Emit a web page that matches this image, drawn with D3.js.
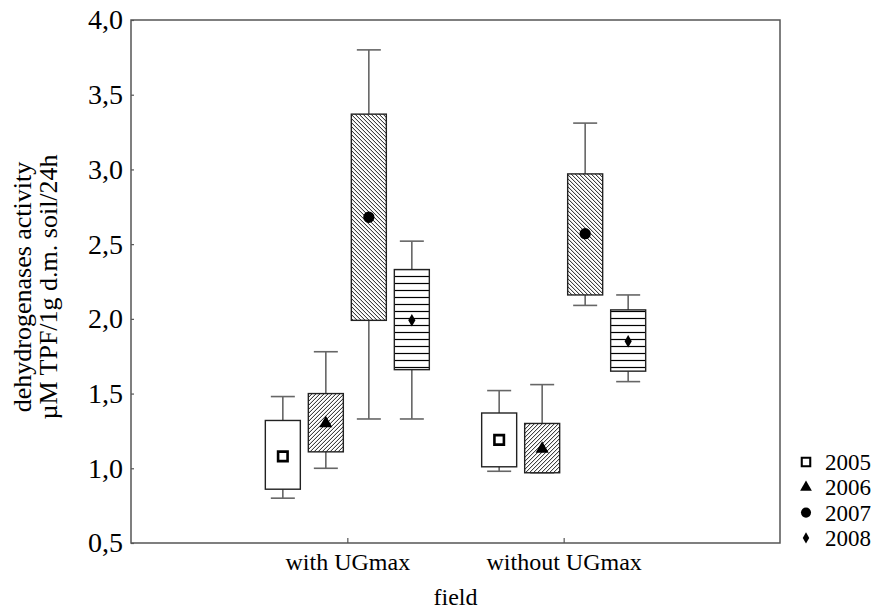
<!DOCTYPE html>
<html>
<head>
<meta charset="utf-8">
<script src="https://cdn.jsdelivr.net/npm/d3@7"></script>
<style>
  body { margin: 0; background: #fff; }
  text { font-family: "Liberation Serif", "Times New Roman", serif; fill: #000; }
</style>
</head>
<body>
<svg width="896" height="610"></svg>
<script>
// categories
var fields = ["with UGmax", "without UGmax"];
var years = ["2005", "2006", "2007", "2008"];
var yTicks = [0.5, 1.0, 1.5, 2.0, 2.5, 3.0, 3.5, 4.0];

// box values per field, in year order: whisker low, box low, mean, box high, whisker high
var lowWithUG   = [0.80, 1.00, 1.33, 1.33];
var q1WithUG    = [0.86, 1.11, 1.99, 1.66];
var meanWithUG  = [1.08, 1.30, 2.68, 1.99];
var q3WithUG    = [1.32, 1.50, 3.37, 2.33];
var highWithUG  = [1.48, 1.78, 3.80, 2.52];

var lowWithoutUG  = [0.98, 0.97, 2.09, 1.58];
var q1WithoutUG   = [1.01, 0.97, 2.16, 1.65];
var meanWithoutUG = [1.19, 1.13, 2.57, 1.85];
var q3WithoutUG   = [1.37, 1.30, 2.97, 2.06];
var highWithoutUG = [1.52, 1.56, 3.31, 2.16];

var rows = [];
[[lowWithUG, q1WithUG, meanWithUG, q3WithUG, highWithUG],
 [lowWithoutUG, q1WithoutUG, meanWithoutUG, q3WithoutUG, highWithoutUG]].forEach(function(s, fi) {
  years.forEach(function(yr, i) {
    rows.push({field: fields[fi], year: yr, lo: s[0][i], q1: s[1][i], mean: s[2][i], q3: s[3][i], hi: s[4][i]});
  });
});

var svg = d3.select("svg");
var mLeft = 131, mRight = 780, mTop = 20, mBottom = 543;

var x = d3.scalePoint().domain(fields).range([mLeft, mRight]).padding(1);
var xYear = d3.scaleBand().domain(years).range([-86, 86]).paddingInner(0.186).paddingOuter(0.093);
var y = d3.scaleLinear().domain([0.5, 4.0]).range([mBottom, mTop]);

var fmt = function(v) { return d3.format(".1f")(v).replace(".", ","); };

// fill patterns
var defs = svg.append("defs");
var p1 = defs.append("pattern").attr("id", "hatchUp")
  .attr("patternUnits", "userSpaceOnUse").attr("width", 4).attr("height", 4);
p1.append("rect").attr("width", 4).attr("height", 4).attr("fill", "#fff");
p1.append("path").attr("d", "M-1,1 l2,-2 M0,4 l4,-4 M3,5 l2,-2")
  .attr("stroke", "#000").attr("stroke-width", 0.9);
var p2 = defs.append("pattern").attr("id", "hatchDown")
  .attr("patternUnits", "userSpaceOnUse").attr("width", 4).attr("height", 4);
p2.append("rect").attr("width", 4).attr("height", 4).attr("fill", "#fff");
p2.append("path").attr("d", "M-1,3 l2,2 M0,0 l4,4 M3,-1 l2,2")
  .attr("stroke", "#000").attr("stroke-width", 0.9);
var p3 = defs.append("pattern").attr("id", "stripes")
  .attr("patternUnits", "userSpaceOnUse").attr("width", 10).attr("height", 7);
p3.append("rect").attr("width", 10).attr("height", 7).attr("fill", "#fff");
p3.append("line").attr("x1", 0).attr("x2", 10).attr("y1", 3.5).attr("y2", 3.5)
  .attr("stroke", "#000").attr("stroke-width", 1.2);

var fills = {"2005": "#fff", "2006": "url(#hatchUp)", "2007": "url(#hatchDown)", "2008": "url(#stripes)"};
var symbols = {
  "2005": {type: d3.symbolSquare, size: 90, fill: "#fff", stroke: "#000", sw: 2.6},
  "2006": {type: d3.symbolTriangle, size: 75, fill: "#000", stroke: "none", sw: 0},
  "2007": {type: d3.symbolCircle, size: 100, fill: "#000", stroke: "none", sw: 0},
  "2008": {type: d3.symbolDiamond, size: 45, fill: "#000", stroke: "none", sw: 0}
};

// axes
var yAxis = svg.append("g").attr("transform", "translate(" + mLeft + ",0)")
  .call(d3.axisLeft(y).tickValues(yTicks).tickFormat(fmt).tickSize(-3).tickPadding(8));
var xAxis = svg.append("g").attr("transform", "translate(0," + mBottom + ")")
  .call(d3.axisBottom(x).tickSize(-5).tickPadding(13));
[yAxis, xAxis].forEach(function(g) {
  g.select(".domain").remove();
  g.selectAll("line").attr("stroke", "#555").attr("stroke-width", 1.2);
  g.selectAll("text").style("font-family", "Liberation Serif").attr("fill", "#000");
});
yAxis.selectAll("text").style("font-size", "28px");
xAxis.selectAll("text").style("font-size", "24px").attr("dy", "0.6em");

// frame
svg.append("rect").attr("x", mLeft).attr("y", mTop)
  .attr("width", mRight - mLeft).attr("height", mBottom - mTop)
  .attr("fill", "none").attr("stroke", "#555").attr("stroke-width", 1.5);

// boxes
var capW = 24;
var bw = xYear.bandwidth();
var g = svg.selectAll(".box").data(rows).enter().append("g")
  .attr("class", "box")
  .attr("transform", function(d) { return "translate(" + (x(d.field) + xYear(d.year) + bw / 2) + ",0)"; });

g.append("line").attr("x1", 0).attr("x2", 0)
  .attr("y1", function(d) { return y(d.hi); }).attr("y2", function(d) { return y(d.q3); })
  .attr("stroke", "#666").attr("stroke-width", 1.6);
g.append("line").attr("x1", 0).attr("x2", 0)
  .attr("y1", function(d) { return y(d.q1); }).attr("y2", function(d) { return y(d.lo); })
  .attr("stroke", "#666").attr("stroke-width", 1.6);
g.append("line").attr("x1", -capW / 2).attr("x2", capW / 2)
  .attr("y1", function(d) { return y(d.hi); }).attr("y2", function(d) { return y(d.hi); })
  .attr("stroke", "#666").attr("stroke-width", 1.6);
g.append("line").attr("x1", -capW / 2).attr("x2", capW / 2)
  .attr("y1", function(d) { return y(d.lo); }).attr("y2", function(d) { return y(d.lo); })
  .attr("stroke", "#666").attr("stroke-width", 1.6);
g.append("rect").attr("x", -bw / 2).attr("width", bw)
  .attr("y", function(d) { return y(d.q3); })
  .attr("height", function(d) { return y(d.q1) - y(d.q3); })
  .attr("fill", function(d) { return fills[d.year]; })
  .attr("stroke", "#222").attr("stroke-width", 1.4);
g.append("path")
  .attr("transform", function(d) { return "translate(0," + y(d.mean) + ")"; })
  .attr("d", function(d) { return d3.symbol().type(symbols[d.year].type).size(symbols[d.year].size)(); })
  .attr("fill", function(d) { return symbols[d.year].fill; })
  .attr("stroke", function(d) { return symbols[d.year].stroke; })
  .attr("stroke-width", function(d) { return symbols[d.year].sw; });

// axis titles
var yt = svg.append("text").attr("transform", "translate(0,287) rotate(-90)")
  .attr("text-anchor", "middle").style("font-size", "26px");
yt.append("tspan").attr("x", 0).attr("y", 31).text("dehydrogenases activity");
yt.append("tspan").attr("x", 0).attr("y", 57).text("\u00b5M TPF/1g d.m. soil/24h");

svg.append("text").attr("x", x.range()[0] + (x.range()[1] - x.range()[0]) / 2).attr("y", 605)
  .attr("text-anchor", "middle").style("font-size", "24px").text("field");

// legend
var leg = svg.selectAll(".leg").data(years).enter().append("g")
  .attr("class", "leg")
  .attr("transform", function(d, i) { return "translate(806," + (462 + i * 25.3) + ")"; });
leg.append("path")
  .attr("d", function(d) { return d3.symbol().type(symbols[d].type).size(symbols[d].size * 0.8)(); })
  .attr("fill", function(d) { return symbols[d].fill; })
  .attr("stroke", function(d) { return symbols[d].stroke; })
  .attr("stroke-width", function(d) { return symbols[d].sw * 0.8; });
leg.append("text").attr("x", 19).attr("dy", "0.35em").style("font-size", "23px").text(function(d) { return d; });
</script>
</body>
</html>
